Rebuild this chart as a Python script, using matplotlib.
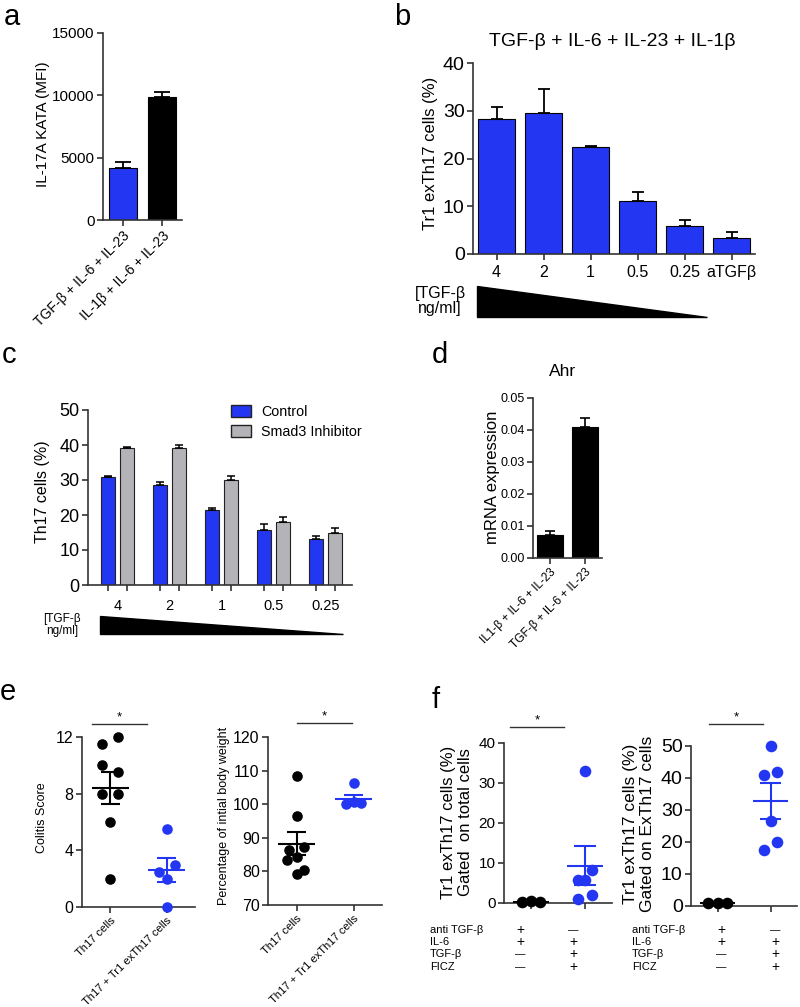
import numpy as np
import matplotlib
matplotlib.use('Agg')
import matplotlib.pyplot as plt
from matplotlib.patches import Polygon, Patch
from matplotlib.lines import Line2D

plt.rcParams['font.family'] = ['Liberation Sans', 'DejaVu Sans']
plt.rcParams['axes.edgecolor'] = '#333333'
plt.rcParams['xtick.color'] = '#333333'
plt.rcParams['ytick.color'] = '#333333'
plt.rcParams['xtick.labelcolor'] = 'black'
plt.rcParams['ytick.labelcolor'] = 'black'

BLUE = '#2337f2'
GRAY = '#b4b4b8'

# ---- data ----
# a
a_labels = ['TGF-β + IL-6 + IL-23', 'IL-1β + IL-6 + IL-23']
a_vals = [4200, 9900]
a_err = [450, 350]

# b
b_labels = ['4', '2', '1', '0.5', '0.25', 'aTGFβ']
b_vals = [28.2, 29.5, 22.5, 11.0, 5.9, 3.3]
b_err = [2.6, 5.0, 0.2, 1.9, 1.2, 1.4]

# c
c_labels = ['4', '2', '1', '0.5', '0.25']
c_ctrl = [30.8, 28.5, 21.4, 15.7, 13.2]
c_ctrl_err = [0.3, 0.8, 0.6, 1.6, 0.8]
c_smad = [39.0, 39.0, 29.9, 17.9, 14.8]
c_smad_err = [0.4, 1.0, 1.2, 1.6, 1.4]

# d
d_labels = ['IL1-β + IL-6 + IL-23', 'TGF-β + IL-6 + IL-23']
d_vals = [0.0073, 0.041]
d_err = [0.0011, 0.0027]

# e
e_groups = ['Th17 cells', 'Th17 + Tr1 exTh17 cells']
colitis_th17 = [12.0, 11.5, 10.0, 9.5, 8.0, 8.0, 6.0, 2.0]
colitis_th17_dx = [0.14, -0.14, -0.14, 0.14, -0.14, 0.14, 0.0, 0.0]
colitis_tr1 = [5.5, 3.0, 2.5, 2.0, 0.0]
colitis_tr1_dx = [0.0, 0.14, -0.14, 0.0, 0.0]
colitis_mean = [8.4, 2.6]
colitis_sem = [1.15, 0.87]

weight_th17 = [108.4, 96.5, 86.4, 87.3, 83.4, 84.3, 79.2, 80.4]
weight_th17_dx = [0.0, 0.0, -0.14, 0.14, -0.16, 0.0, 0.0, 0.14]
weight_tr1 = [106.2, 100.2, 100.4, 100.8]
weight_tr1_dx = [0.0, -0.14, 0.14, 0.0]
weight_mean = [88.3, 101.5]
weight_sem = [3.4, 1.1]

# f
f_rows = ['anti TGF-β', 'IL-6', 'TGF-β', 'FICZ']
f_ctrl_sign = ['+', '+', '—', '—']
f_ficz_sign = ['—', '+', '+', '+']

total_ctrl = [0.3, 0.4, 0.3]
total_ctrl_dx = [-0.17, 0.0, 0.17]
total_ficz = [33.0, 8.2, 5.7, 5.7, 2.1, 1.1]
total_ficz_dx = [0.0, 0.13, -0.13, 0.0, 0.13, -0.13]
total_mean = [0.3, 9.3]
total_sem = [0.05, 4.9]

ex_ctrl = [0.8, 0.9, 0.8]
ex_ctrl_dx = [-0.17, 0.0, 0.17]
ex_ficz = [50.0, 42.0, 41.0, 26.5, 20.1, 17.5]
ex_ficz_dx = [0.0, 0.13, -0.13, 0.0, 0.13, -0.13]
ex_mean = [0.8, 32.8]
ex_sem = [0.1, 5.5]

# ---- figure ----
W, H = 800, 1007
fig = plt.figure(figsize=(8, 10.07), dpi=100)


def fx(x):
    return x / W


def fy(y):
    return 1 - y / H


def px_axes(l, t, r, b):
    return fig.add_axes([l / W, 1 - b / H, (r - l) / W, (b - t) / H])


def style(ax, size):
    for s in ['top', 'right']:
        ax.spines[s].set_visible(False)
    for s in ['left', 'bottom']:
        ax.spines[s].set_linewidth(1.2)
    ax.tick_params(labelsize=size, width=1.2, length=4, pad=2)


def ftext(x, y, s, **kw):
    fig.text(fx(x), fy(y), s, **kw)


def letter(x, y, s):
    ftext(x, y, s, fontsize=21, ha='left', va='baseline')


def triangle(x0, x1, y0, y1):
    tri = Polygon([(fx(x0), fy(y0)), (fx(x0), fy(y1)), (fx(x1), fy(y1))],
                  closed=True, transform=fig.transFigure, color='black')
    fig.add_artist(tri)


def sig(x0, x1, y):
    fig.add_artist(Line2D([fx(x0), fx(x1)], [fy(y), fy(y)], color='#333333',
                          lw=1.0, transform=fig.transFigure))
    ftext((x0 + x1) / 2, y - 1, '*', fontsize=9.5, ha='center', va='bottom')


def dots(ax, x, vals, dxs, color, mean, sem, hw=0.33, cw=0.17, s=58):
    xs = [x + d for d in dxs]
    ax.scatter(xs, vals, s=s, color=color, zorder=3, clip_on=False, linewidths=0)
    ax.hlines(mean, x - hw, x + hw, color=color, lw=1.5, zorder=4)
    ax.vlines(x, mean - sem, mean + sem, color=color, lw=1.5, zorder=4)
    ax.hlines([mean - sem, mean + sem], x - cw, x + cw, color=color, lw=1.5, zorder=4)


# panel a
ax = px_axes(103, 33, 182, 220)
x = np.arange(len(a_vals))
ax.bar(x, a_vals, width=0.7, color=[BLUE, 'black'], edgecolor='black', linewidth=0.8)
ax.errorbar(x, a_vals, yerr=[[0, 0], a_err], fmt='none', ecolor='black',
            capsize=6, elinewidth=1.3, capthick=1.3)
ax.set_xlim(-0.5, 1.5)
ax.set_ylim(0, 15000)
ax.set_yticks([0, 5000, 10000, 15000])
ax.set_xticks(x)
ax.set_xticklabels(a_labels, rotation=45, ha='right', rotation_mode='anchor')
style(ax, 11)
ax.tick_params(axis='x', labelsize=10)
ftext(43, 124, 'IL-17A KATA (MFI)', fontsize=11, rotation=90, ha='center', va='center')
letter(4, 25, 'a')

# panel b
ax = px_axes(473, 63, 755, 254)
x = np.arange(len(b_vals))
ax.bar(x, b_vals, width=0.77, color=BLUE, edgecolor='black', linewidth=0.8)
ax.errorbar(x, b_vals, yerr=[[0] * len(b_vals), b_err], fmt='none', ecolor='black',
            capsize=4.3, elinewidth=1.3, capthick=1.3)
ax.set_xlim(-0.5, 5.5)
ax.set_ylim(0, 40)
ax.set_yticks([0, 10, 20, 30, 40])
ax.set_xticks(x)
ax.set_xticklabels(b_labels)
style(ax, 14)
ax.tick_params(axis='x', labelsize=11.5, pad=4)
ftext(612, 42, 'TGF-β + IL-6 + IL-23 + IL-1β', fontsize=14, ha='center', va='center')
ftext(430, 153, 'Tr1 exTh17 cells (%)', fontsize=12, rotation=90, ha='center', va='center')
ftext(440, 301, '[TGF-β\nng/ml]', fontsize=11.5, ha='center', va='center', linespacing=1.05)
triangle(477, 707, 286, 317)
letter(394, 25, 'b')

# panel c
ax = px_axes(88, 410, 352, 585)
x = np.arange(len(c_ctrl))
off = 0.18
bw = 0.27
ax.bar(x - off, c_ctrl, width=bw, color=BLUE, edgecolor='#222222', linewidth=0.8)
ax.bar(x + off, c_smad, width=bw, color=GRAY, edgecolor='#222222', linewidth=0.8)
ax.errorbar(x - off, c_ctrl, yerr=[[0] * 5, c_ctrl_err], fmt='none', ecolor='black',
            capsize=2.8, elinewidth=1.1, capthick=1.1)
ax.errorbar(x + off, c_smad, yerr=[[0] * 5, c_smad_err], fmt='none', ecolor='black',
            capsize=2.8, elinewidth=1.1, capthick=1.1)
ax.set_xlim(-0.57, 4.51)
ax.set_ylim(0, 50)
ax.set_yticks([0, 10, 20, 30, 40, 50])
ax.set_xticks(np.concatenate([x - off, x + off]))
ax.set_xticklabels([])
ax.set_xticks(x, minor=True)
ax.set_xticklabels(c_labels, minor=True)
style(ax, 13)
ax.tick_params(axis='x', which='minor', length=0, labelsize=10.5, pad=10)
ax.legend(handles=[Patch(facecolor=BLUE, edgecolor='#222222', label='Control'),
                   Patch(facecolor=GRAY, edgecolor='#222222', label='Smad3 Inhibitor')],
          loc='upper left', bbox_to_anchor=(0.54, 1.03), frameon=False, fontsize=10.3,
          handlelength=1.45, handleheight=0.9, handletextpad=0.7, labelspacing=0.45,
          borderaxespad=0, borderpad=0)
ftext(43, 492, 'Th17 cells (%)', fontsize=11.5, rotation=90, ha='center', va='center')
ftext(62, 625, '[TGF-β\nng/ml]', fontsize=8.5, ha='center', va='center', linespacing=1.05)
triangle(100, 343, 616, 634)
letter(2, 363, 'c')

# panel d
ax = px_axes(533, 398, 602, 558)
x = np.arange(len(d_vals))
ax.bar(x, d_vals, width=0.74, color='black', edgecolor='black', linewidth=0.8)
ax.errorbar(x, d_vals, yerr=[[0, 0], d_err], fmt='none', ecolor='black',
            capsize=3.5, elinewidth=1.2, capthick=1.2)
ax.set_xlim(-0.5, 1.5)
ax.set_ylim(0, 0.05)
ax.set_yticks([0, 0.01, 0.02, 0.03, 0.04, 0.05])
ax.set_yticklabels(['0.00', '0.01', '0.02', '0.03', '0.04', '0.05'])
ax.set_xticks(x)
ax.set_xticklabels(d_labels, rotation=45, ha='right', rotation_mode='anchor')
style(ax, 9)
ax.tick_params(axis='x', labelsize=8.5)
ftext(563, 372, 'Ahr', fontsize=12.5, ha='center', va='center')
ftext(493, 477, 'mRNA expression', fontsize=12, rotation=90, ha='center', va='center')
letter(432, 363, 'd')

# panel e (left)
ax = px_axes(82, 737, 195, 907)
dots(ax, 0, colitis_th17, colitis_th17_dx, 'black', colitis_mean[0], colitis_sem[0])
dots(ax, 1, colitis_tr1, colitis_tr1_dx, BLUE, colitis_mean[1], colitis_sem[1])
ax.set_xlim(-0.5, 1.5)
ax.set_ylim(0, 12)
ax.set_yticks([0, 4, 8, 12])
ax.set_xticks([0, 1])
ax.set_xticklabels(e_groups, rotation=45, ha='right', rotation_mode='anchor')
style(ax, 11.5)
ax.tick_params(axis='x', labelsize=8)
ftext(42, 818, 'Colitis Score', fontsize=9, rotation=90, ha='center', va='center')
sig(92, 147, 724)
letter(0, 700, 'e')

# panel e (right)
ax = px_axes(268, 737, 382, 905)
dots(ax, 0, weight_th17, weight_th17_dx, 'black', weight_mean[0], weight_sem[0])
dots(ax, 1, weight_tr1, weight_tr1_dx, BLUE, weight_mean[1], weight_sem[1])
ax.set_xlim(-0.5, 1.5)
ax.set_ylim(70, 120)
ax.set_yticks([70, 80, 90, 100, 110, 120])
ax.set_xticks([0, 1])
ax.set_xticklabels(e_groups, rotation=45, ha='right', rotation_mode='anchor')
style(ax, 11.5)
ax.tick_params(axis='x', labelsize=8)
ftext(224, 816, 'Percentage of intial body weight', fontsize=9, rotation=90,
      ha='center', va='center')
sig(297, 352, 723)

# panel f (left)
ax = px_axes(504, 743, 612, 903)
dots(ax, 0, total_ctrl, total_ctrl_dx, 'black', total_mean[0], total_sem[0], hw=0.33, cw=0.2, s=70)
dots(ax, 1, total_ficz, total_ficz_dx, BLUE, total_mean[1], total_sem[1], hw=0.33, cw=0.2, s=70)
ax.set_xlim(-0.5, 1.5)
ax.set_ylim(0, 40)
ax.set_yticks([0, 10, 20, 30, 40])
ax.set_xticks([0, 1])
ax.set_xticklabels([])
style(ax, 11)
ftext(457, 822, 'Tr1 exTh17 cells (%)\nGated  on total cells', fontsize=12, rotation=90,
      ha='center', va='center', linespacing=1.1)
sig(510, 564, 727)
letter(432, 708, 'f')

# panel f (right)
ax = px_axes(691, 746, 797, 906)
dots(ax, 0, ex_ctrl, ex_ctrl_dx, 'black', ex_mean[0], ex_sem[0], hw=0.33, cw=0.2, s=70)
dots(ax, 1, ex_ficz, ex_ficz_dx, BLUE, ex_mean[1], ex_sem[1], hw=0.33, cw=0.2, s=70)
ax.set_xlim(-0.5, 1.5)
ax.set_ylim(0, 50)
ax.set_yticks([0, 10, 20, 30, 40, 50])
ax.set_xticks([0, 1])
ax.set_xticklabels([])
style(ax, 14)
ftext(639, 824, 'Tr1 exTh17 cells (%)\nGated on ExTh17 cells', fontsize=12.5, rotation=90,
      ha='center', va='center', linespacing=1.1)
sig(709, 763, 724)

# condition tables under f
row_y = [930, 942, 954, 967]
for lab_x, c1, c2 in [(430, 520, 573), (632, 721, 775)]:
    for ry, name, s1, s2 in zip(row_y, f_rows, f_ctrl_sign, f_ficz_sign):
        ftext(lab_x, ry, name, fontsize=8, ha='left', va='center')
        size = 10 if s1 == '+' else 7.5
        ftext(c1, ry, s1, fontsize=size, ha='center', va='center')
        size = 10 if s2 == '+' else 7.5
        ftext(c2, ry, s2, fontsize=size, ha='center', va='center')

fig.savefig('out.png', dpi=100)
